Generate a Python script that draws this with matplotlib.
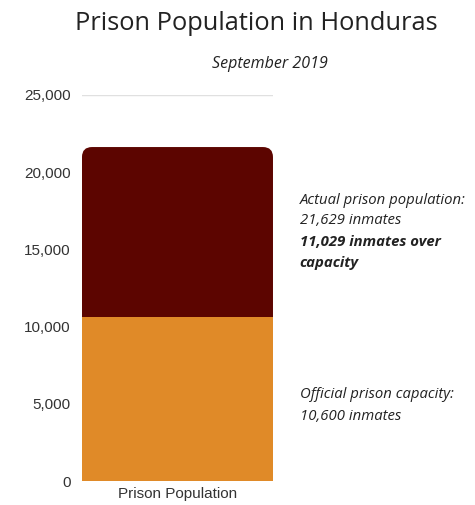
import matplotlib
matplotlib.use("Agg")
import matplotlib.pyplot as plt
from matplotlib.patches import FancyBboxPatch

# data
category = ["Prison Population"]
capacity = [10600]
over_capacity = [11029]
yticks = [0, 5000, 10000, 15000, 20000, 25000]

orange = "#e08a28"
maroon = "#5c0500"

fig = plt.figure(figsize=(4.75, 5.05), dpi=100)
ax = fig.add_axes([0.1726, 0.0475, 0.4021, 0.7644])

ax.set_ylim(0, 25000)
ax.set_xlim(-0.5, 0.5)

bars_low = ax.bar(category, capacity, width=1.0, color=orange, zorder=2)
bars_top = ax.bar(category, over_capacity, bottom=capacity, width=1.0,
                  color=maroon, zorder=2)

# round the two upper corners of the stacked bar
ax_w_px = 0.4021 * 475
ax_h_px = 0.7644 * 505
radius_px = 10
rx = radius_px / ax_w_px * 1.0
aspect = (25000 / ax_h_px) / (1.0 / ax_w_px)
for p in bars_top:
    clip = FancyBboxPatch((p.get_x(), p.get_y() - 2000), p.get_width(),
                          p.get_height() + 2000,
                          boxstyle=f"round,pad=0,rounding_size={rx}",
                          mutation_aspect=aspect,
                          transform=ax.transData, facecolor="none",
                          edgecolor="none")
    ax.add_patch(clip)
    p.set_clip_path(clip)

ax.set_yticks(yticks)
ax.set_yticklabels([f"{v:,}" for v in yticks])
ax.yaxis.grid(True, color="#e0e0e0", linewidth=1, zorder=0)
ax.set_axisbelow(True)
for s in ax.spines.values():
    s.set_visible(False)
ax.tick_params(axis="both", length=0, labelsize=11, labelcolor="#333333",
               pad=8)
ax.tick_params(axis="x", pad=4)
for lab in ax.get_xticklabels() + ax.get_yticklabels():
    lab.set_fontfamily("Liberation Sans")

fig.text(0.54, 0.953, "Prison Population in Honduras", ha="center",
         va="center", fontsize=18.3, family="Open Sans", color="#222222")
fig.text(0.568, 0.874, "September 2019", ha="center", va="center",
         fontsize=11.5, family="Open Sans", style="italic", color="#222222")

note_kw = dict(fontsize=10.7, family="Open Sans", color="#222222",
               transform=fig.transFigure, va="center", ha="left")
fig.text(0.631, 1 - 200 / 505, "Actual prison population:", style="italic", **note_kw)
fig.text(0.631, 1 - 221 / 505, f"{capacity[0] + over_capacity[0]:,} inmates",
         style="italic", **note_kw)
fig.text(0.631, 1 - 242 / 505, f"{over_capacity[0]:,} inmates over",
         style="italic", weight="bold", **note_kw)
fig.text(0.631, 1 - 263 / 505, "capacity", style="italic", weight="bold",
         **note_kw)
fig.text(0.631, 1 - 395 / 505, "Official prison capacity:", style="italic", **note_kw)
fig.text(0.631, 1 - 416 / 505, f"{capacity[0]:,} inmates", style="italic",
         **note_kw)

fig.savefig("out.png", dpi=100, facecolor="white")
